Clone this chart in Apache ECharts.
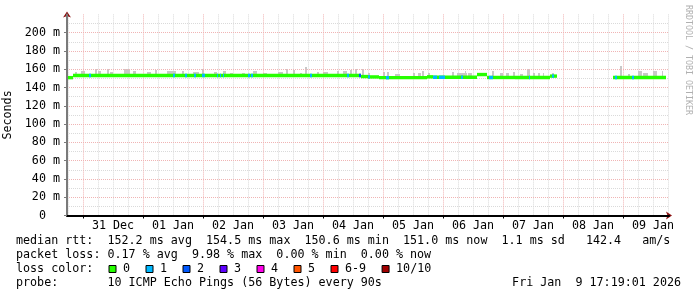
<!DOCTYPE html>
<html><head><meta charset="utf-8">
<script src="https://cdn.jsdelivr.net/npm/echarts@6/dist/echarts.min.js"></script>
<style>html,body{margin:0;padding:0;background:#fff}#c{width:697px;height:297px}</style>
</head><body><div id="c"></div>
<script>
// ---------------- data (time in hours since 31 Dec 00:00) ----------------
const dayLabels = ['31 Dec','01 Jan','02 Jan','03 Jan','04 Jan','05 Jan','06 Jan','07 Jan','08 Jan','09 Jan'];
const timeMin = -6.4, timeMax = 234.4;
const yMin = 0, yMax = 220, yStep = 20;

// median rtt runs (ms)
const medStart = [-6.4, -4.0, 111.2, 114.0, 118.4, 137.6, 140.0, 157.6, 161.6, 172.8, 186.8, 212.0];
const medEnd   = [-4.0, 111.2, 114.0, 118.4, 137.6, 140.0, 157.6, 161.6, 172.8, 186.8, 189.6, 233.2];
const medValue = [150.8, 153.2, 152.0, 151.6, 150.8, 151.7, 151.2, 154.2, 151.0, 150.9, 152.5, 150.9];

// packet-loss events (pings lost of 10)
const lossStart = [2.4, 36.0, 40.8, 44.4, 47.6, 53.6, 54.8, 56.0, 66.0, 67.2, 90.8, 105.6, 110.4, 114.0, 121.2, 140.0, 142.4, 151.2, 162.4, 178.4, 187.6, 212.8, 219.6];
const lossEnd   = [3.2, 36.8, 41.6, 45.2, 48.8, 54.0, 55.2, 56.4, 66.8, 68.0, 91.6, 106.4, 111.2, 114.8, 122.4, 141.6, 144.8, 152.0, 164.0, 178.8, 188.4, 213.6, 220.4];
const lossCount = [1, 1, 1, 1, 1, 1, 1, 1, 1, 1, 1, 1, 2, 1, 1, 1, 1, 1, 1, 1, 1, 1, 1];

// smoke (max ping) spikes
const smokeStart = [-3.2, -0.8, 4.8, 6.0, 9.6, 10.8, 16.4, 20.0, 25.6, 28.8,
                    33.6, 39.6, 44.0, 47.6, 52.4, 56.0, 58.8, 63.6, 68.0, 72.0,
                    78.0, 81.2, 84.0, 86.8, 88.8, 93.6, 96.0, 101.6, 104.0, 106.8,
                    108.8, 111.6, 114.0, 120.0, 121.6, 124.8, 132.0, 134.0, 135.6, 138.0,
                    147.6, 149.6, 152.8, 154.0, 163.6, 166.8, 169.2, 172.0, 174.8, 177.6,
                    180.0, 182.0, 184.0, 187.6, 214.8, 218.0, 222.0, 224.0, 228.0, 231.6];
const smokeEnd   = [-2.4, 0.8, 5.6, 7.2, 10.4, 12.0, 18.8, 21.2, 27.2, 29.6,
                    37.2, 40.4, 46.4, 48.4, 53.6, 57.2, 60.0, 64.8, 69.6, 73.6,
                    80.0, 82.0, 84.8, 87.6, 89.6, 94.4, 98.0, 102.4, 105.6, 107.6,
                    109.6, 112.4, 114.8, 120.8, 122.4, 126.8, 132.8, 135.2, 136.4, 138.8,
                    148.4, 153.6, 153.2, 155.6, 164.4, 168.0, 170.4, 172.8, 176.0, 178.8,
                    180.8, 182.8, 184.4, 188.4, 215.6, 218.8, 223.6, 226.0, 229.6, 232.0];
const smokeTop   = [157.2, 158.0, 160.5, 158.0, 160.0, 157.2, 160.0, 158.0, 157.2, 159.0,
                    158.0, 158.0, 157.2, 160.5, 157.2, 158.0, 156.4, 156.4, 158.0, 156.4,
                    157.2, 160.0, 159.0, 156.4, 162.0, 157.2, 157.2, 158.0, 158.0, 159.0,
                    160.5, 160.5, 156.4, 157.2, 157.2, 154.8, 155.6, 155.6, 158.0, 156.4,
                    157.2, 155.6, 158.0, 155.6, 158.0, 155.6, 156.4, 157.2, 154.8, 160.0,
                    156.4, 156.4, 155.6, 156.4, 163.4, 154.8, 158.0, 155.6, 158.0, 158.0];

const lossLabels = ['0', '1', '2', '3', '4', '5', '6-9', '10/10'];
const statLines = [
  'median rtt:  152.2 ms avg  154.5 ms max  150.6 ms min  151.0 ms now  1.1 ms sd   142.4   am/s',
  'packet loss: 0.17 % avg  9.98 % max  0.00 % min  0.00 % now',
  'loss color:',
  'probe:       10 ICMP Echo Pings (56 Bytes) every 90s'
];
const stampText = 'Fri Jan  9 17:19:01 2026';
const yAxisTitle = 'Seconds';
const sideText = 'RRDTOOL / TOBI OETIKER';

// ---------------- styles ----------------
const lossColors = ['#26ff00', '#00b8ff', '#0059ff', '#5e00ff', '#ff00ea', '#ff5500', '#ff0000', '#a10000'];
const MONO = '"DejaVu Sans Mono", monospace';
const FS = 11.7;
const majorGrid = '#f0b4b4';
const minorGrid = '#dadada';
const arrowColor = '#8b1010';
const smokeColor = '#c8c8c8';
const bandHalf = 1.7;

// ---------------- helpers ----------------
function medianAt(t) {
  for (let i = 0; i < medStart.length; i++) if (t >= medStart[i] && t <= medEnd[i]) return medValue[i];
  return null;
}
function lossIdx(n) { return n >= 10 ? 7 : (n >= 6 ? 6 : n); }

const midnights = dayLabels.map((d, i) => i * 24);
const noons = dayLabels.map((d, i) => i * 24 + 12);
const minorHours = [];
for (let d = -1; d < dayLabels.length; d++) for (const k of [6, 12, 18]) {
  const h = d * 24 + k; if (h > timeMin && h < timeMax) minorHours.push(h);
}

function bandItem(params, api) {
  const a = api.coord([api.value(0), api.value(2)]);
  const b = api.coord([api.value(1), api.value(2)]);
  const x0 = Math.round(a[0]), x1 = Math.round(b[0]);
  return { type: 'rect', shape: { x: x0, y: a[1] - bandHalf, width: Math.max(1, x1 - x0), height: bandHalf * 2 },
           style: { fill: lossColors[lossIdx(api.value(3))] } };
}
function smokeItem(params, api) {
  const a = api.coord([api.value(0), api.value(3)]);
  const b = api.coord([api.value(1), api.value(2)]);
  const x0 = Math.round(a[0]), x1 = Math.round(b[0]);
  return { type: 'rect', shape: { x: x0, y: Math.round(a[1]), width: Math.max(1, x1 - x0), height: b[1] - Math.round(a[1]) },
           style: { fill: smokeColor } };
}

const medData = medStart.map((s, i) => [s, medEnd[i], medValue[i], 0]);
const lossData = lossStart.map((s, i) => [s, lossEnd[i], medianAt((s + lossEnd[i]) / 2), lossCount[i]]);
const smokeData = smokeStart.map((s, i) => [s, smokeEnd[i], medianAt((s + smokeEnd[i]) / 2), smokeTop[i]]);

// legend / text graphics
const graphics = [];
const lineY = [241.3, 255.3, 269.3, 283.3];
statLines.forEach((t, i) => graphics.push({ type: 'text', x: 16, y: lineY[i], silent: true,
  style: { text: t, font: FS + 'px ' + MONO, fill: '#000', verticalAlign: 'middle', align: 'left' } }));
graphics.push({ type: 'text', x: 681, y: lineY[3], silent: true,
  style: { text: stampText, font: FS + 'px ' + MONO, fill: '#000', verticalAlign: 'middle', align: 'right' } });
let sx = 108.5;
lossLabels.forEach((lab, i) => {
  graphics.push({ type: 'rect', silent: true, shape: { x: sx + 0.5, y: 265.5, width: 7, height: 7 },
    style: { fill: lossColors[i], stroke: '#000', lineWidth: 1 } });
  graphics.push({ type: 'text', x: sx + 14.5, y: lineY[2], silent: true,
    style: { text: lab, font: FS + 'px ' + MONO, fill: '#000', verticalAlign: 'middle', align: 'left' } });
  sx += 37 + (lab.length - 1) * 7.04;
});
graphics.push({ type: 'text', x: 688, y: 5, rotation: -Math.PI / 2, silent: true,
  style: { text: sideText, font: '8.3px ' + MONO, fill: '#b0b0b0', verticalAlign: 'middle', align: 'left' } });

const chart = echarts.init(document.getElementById('c'), null, { renderer: 'canvas', width: 697, height: 297 });
chart.setOption({
  animation: false,
  backgroundColor: '#fff',
  grid: { left: 67, right: 28, top: 14.4, bottom: 81.5, containLabel: false, outerBoundsMode: 'none' },
  xAxis: [{
    type: 'value', min: timeMin, max: timeMax, position: 'bottom', z: 3,
    axisLine: { show: true, onZero: false, lineStyle: { color: '#000', width: 2 } },
    axisTick: { show: true, length: 3, customValues: midnights, lineStyle: { color: '#000' } },
    axisLabel: { show: true, customValues: noons, formatter: v => dayLabels[Math.floor(v / 24)] || '',
                 margin: 4, color: '#000', fontFamily: MONO, fontSize: FS },
    splitLine: { show: true, lineStyle: { color: majorGrid, type: [1, 1], width: 1 } }
  }, {
    type: 'value', min: timeMin, max: timeMax, position: 'bottom', z: 1,
    axisLine: { show: true, onZero: false, symbol: ['none', 'arrow'], symbolSize: [6, 6], symbolOffset: [0, 3],
                lineStyle: { color: arrowColor, width: 1 } },
    axisTick: { show: true, length: 0, customValues: minorHours },
    axisLabel: { show: false },
    splitLine: { show: true, lineStyle: { color: minorGrid, type: [1, 1], width: 1 } }
  }],
  yAxis: [{
    type: 'value', min: yMin, max: yMax, interval: yStep, position: 'left', z: 3,
    name: yAxisTitle, nameLocation: 'middle', nameGap: 45, nameRotate: 90,
    nameTextStyle: { fontFamily: MONO, fontSize: FS, color: '#000' },
    axisLine: { show: true, onZero: false, lineStyle: { color: '#7a7a7a', width: 2 } },
    axisTick: { show: true, length: 3, lineStyle: { color: '#7a7a7a' } },
    axisLabel: { showMaxLabel: false, margin: 7, color: '#000', fontFamily: MONO, fontSize: FS,
                 formatter: v => v === 0 ? '0  ' : v + ' m' },
    splitLine: { show: true, showMaxLine: false, showMinLine: false, lineStyle: { color: majorGrid, type: [1, 1] } },
    minorTick: { show: false, splitNumber: 2 },
    minorSplitLine: { show: true, lineStyle: { color: minorGrid, type: [1, 1] } }
  }, {
    type: 'value', min: yMin, max: yMax, position: 'left', z: 1,
    axisLine: { show: true, onZero: false, symbol: ['none', 'arrow'], symbolSize: [6, 6], symbolOffset: [0, 3],
                lineStyle: { color: arrowColor, width: 1 } },
    axisTick: { show: false }, axisLabel: { show: false }, splitLine: { show: false }
  }],
  series: [
    { type: 'custom', name: 'smoke', renderItem: smokeItem, data: smokeData, encode: { x: [0, 1], y: [2, 3] }, silent: true, z: 2 },
    { type: 'custom', name: 'median', renderItem: bandItem, data: medData, encode: { x: [0, 1], y: 2 }, silent: true, z: 3 },
    { type: 'custom', name: 'loss', renderItem: bandItem, data: lossData, encode: { x: [0, 1], y: 2 }, silent: true, z: 4 }
  ],
  graphic: graphics
});
</script></body></html>
